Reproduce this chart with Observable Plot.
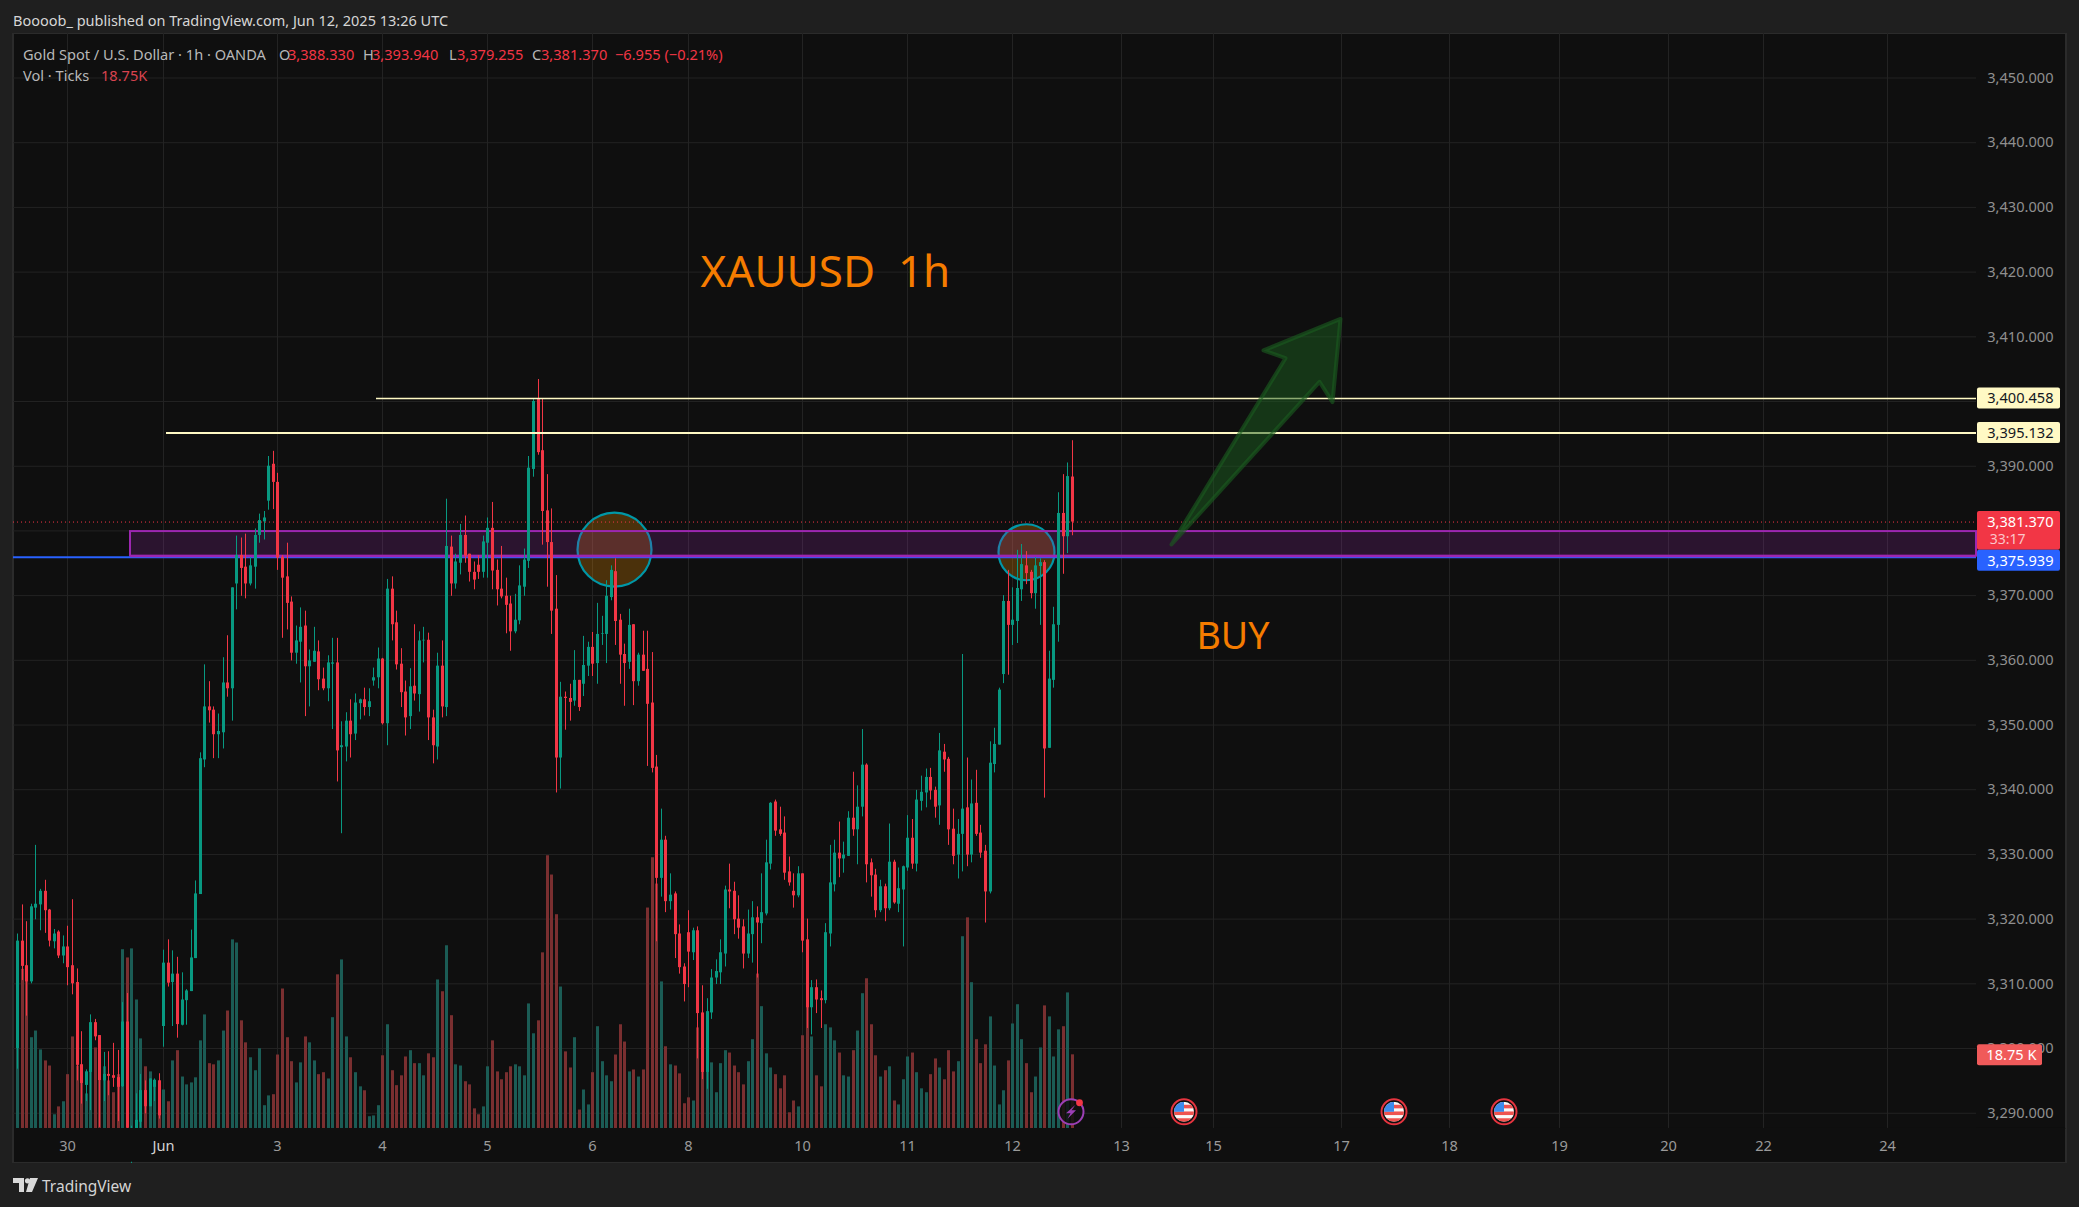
<!DOCTYPE html>
<html><head><meta charset="utf-8">
<script src="https://cdn.jsdelivr.net/npm/d3@7"></script>
<script src="https://cdn.jsdelivr.net/npm/@observablehq/plot@0.6"></script>
<style>
html,body{margin:0;padding:0;background:#1f1f1f;width:2079px;height:1207px;overflow:hidden;font-family:"Noto Sans",sans-serif}
#wrap{position:relative;width:2079px;height:1207px}
#title{position:absolute;left:13px;top:10px;font-size:14.5px;line-height:20px;color:#d6d6d6;white-space:nowrap}
#chart{position:absolute;left:0;top:33px}
.lg{position:absolute;font-size:14.6px;line-height:20px;white-space:nowrap}
#foot{position:absolute;left:42px;top:1174px;font-size:15.5px;line-height:24px;color:#d4d4d4}
#logo{position:absolute;left:13px;top:1178px}
</style></head><body><div id="wrap">
<div id="title">Boooob_ published on TradingView.com, Jun 12, 2025 13:26 UTC</div>
<div id="chart"></div>
<div id="legend"></div>
<svg id="logo" width="25" height="15" viewBox="0 0 25 15"><path d="M0 0h11v14H6V5H0z M17 0h8l-6 14h-6z" fill="#d9d9d9"/><circle cx="14.5" cy="2.8" r="2.6" fill="#d9d9d9"/></svg>
<div id="foot">TradingView</div>
</div>
<script>
const highs=[3317.7,3322.2,3319.6,3322.3,3331.4,3324.6,3326.0,3321.5,3318.4,3318.2,
3317.4,3318.9,3323.0,3312.3,3302.6,3296.7,3305.2,3304.5,3302.0,3299.4,
3299.5,3300.8,3299.7,3307.1,3308.5,3288.0,3293.0,3296.0,3295.0,3295.3,
3295.3,3296.1,3315.2,3316.8,3315.1,3314.1,3311.7,3309.1,3318.3,3325.9,
3345.7,3359.3,3356.7,3352.8,3351.7,3360.4,3363.8,3371.2,3379.2,3378.9,
3379.5,3375.9,3380.3,3382.6,3383.0,3391.5,3392.3,3388.9,3376.2,3378.1,
3369.8,3365.3,3368.1,3367.6,3361.6,3365.1,3363.0,3358.8,3360.7,3363.4,
3363.4,3350.5,3351.9,3353.9,3354.8,3354.0,3355.7,3355.6,3358.8,3361.9,
3360.3,3372.5,3372.9,3367.6,3361.8,3356.8,3358.7,3365.5,3364.4,3365.1,
3364.2,3352.3,3361.1,3363.0,3384.9,3379.2,3376.4,3381.0,3382.3,3376.4,
3375.2,3376.2,3379.2,3382.0,3384.4,3375.5,3377.6,3372.7,3369.9,3370.2,
3374.6,3377.2,3391.5,3400.3,3403.4,3400.4,3388.7,3383.4,3373.1,3356.6,
3355.1,3356.3,3361.5,3356.9,3363.7,3362.8,3364.3,3368.8,3366.8,3372.3,
3374.6,3375.7,3367.1,3362.5,3367.9,3365.5,3361.1,3364.5,3364.5,3361.2,
3345.3,3337.0,3332.8,3327.0,3324.2,3319.1,3313.1,3321.3,3318.6,3318.8,
3309.7,3307.7,3312.2,3313.7,3316.8,3325.1,3328.5,3325.7,3323.6,3319.9,
3321.4,3322.7,3321.9,3327.0,3332.2,3338.0,3338.4,3337.3,3335.8,3329.6,
3327.0,3328.1,3327.0,3320.0,3310.5,3310.6,3308.9,3319.3,3331.4,3332.2,
3335.0,3331.9,3336.6,3342.7,3340.6,3349.3,3344.0,3329.3,3327.7,3326.0,
3325.4,3334.7,3329.1,3327.9,3328.2,3336.0,3335.4,3339.9,3342.1,3343.2,
3343.3,3340.4,3348.7,3347.0,3345.0,3337.0,3335.4,3360.9,3344.9,3341.5,
3343.0,3334.5,3331.4,3347.4,3349.5,3355.7,3370.0,3373.9,3371.2,3377.0,
3377.9,3376.8,3373.9,3375.9,3375.7,3375.4,3361.4,3368.2,3385.9,3388.7,
3390.5,3393.94];
const lows=[3296.8,3310.5,3305.0,3310.0,3319.9,3318.2,3317.8,3315.7,3315.4,3313.9,
3313.1,3309.7,3308.3,3295.0,3291.4,3291.8,3290.4,3301.2,3287.8,3291.8,
3292.7,3294.0,3288.7,3294.0,3287.6,3282.0,3284.0,3287.7,3289.9,3291.0,
3291.8,3289.1,3300.2,3309.5,3303.4,3301.6,3303.5,3303.6,3308.8,3313.9,
3323.8,3343.4,3350.3,3344.8,3344.8,3346.3,3354.3,3350.6,3367.8,3369.9,
3369.5,3371.5,3371.0,3378.1,3378.6,3383.2,3383.3,3373.9,3363.4,3364.7,
3359.9,3359.4,3356.5,3351.3,3352.8,3359.7,3355.3,3355.3,3353.6,3349.3,
3341.2,3333.2,3344.3,3344.9,3347.6,3350.8,3351.4,3351.3,3356.0,3355.6,
3350.0,3346.8,3363.0,3358.5,3352.7,3348.3,3349.3,3353.7,3352.0,3359.6,
3347.6,3344.0,3344.6,3351.1,3351.3,3369.9,3371.0,3373.2,3375.0,3372.1,
3370.9,3372.5,3372.7,3372.7,3370.9,3368.4,3369.5,3364.1,3361.4,3364.1,
3365.5,3369.9,3374.2,3388.3,3391.7,3377.8,3371.3,3364.0,3339.5,3340.1,
3349.2,3350.6,3352.9,3352.1,3354.4,3357.5,3357.5,3356.3,3362.3,3359.5,
3369.2,3362.3,3356.3,3352.9,3358.6,3353.0,3356.0,3358.3,3343.6,3342.6,
3316.5,3323.4,3321.0,3321.4,3313.9,3311.5,3307.2,3309.4,3313.6,3298.4,
3295.2,3293.7,3304.5,3309.9,3309.9,3312.6,3321.6,3317.6,3316.9,3312.3,
3313.9,3313.2,3310.9,3316.2,3320.5,3327.6,3332.8,3332.8,3326.0,3325.1,
3321.7,3323.3,3314.8,3303.1,3302.1,3305.4,3303.1,3306.9,3315.7,3324.2,
3326.4,3327.1,3329.7,3332.8,3328.4,3335.8,3325.6,3323.4,3320.2,3321.0,
3319.6,3321.3,3322.3,3321.0,3315.7,3327.4,3327.7,3327.3,3336.7,3337.2,
3338.4,3335.6,3334.5,3342.7,3331.4,3328.4,3326.2,3327.3,3328.1,3328.7,
3332.8,3329.4,3319.4,3323.9,3342.6,3346.9,3356.4,3357.7,3362.3,3362.6,
3369.1,3371.7,3369.5,3367.9,3365.4,3338.7,3346.4,3355.7,3362.8,3373.3,
3376.5,3379.255];
const opens=[3300.0,3316.6,3312.8,3310.3,3321.7,3322.2,3324.3,3321.4,3316.5,3318.0,
3314.3,3315.7,3312.8,3310.2,3297.5,3294.3,3296.3,3304.0,3302.0,3295.0,
3296.0,3295.8,3295.5,3294.1,3304.1,3283.0,3285.0,3288.6,3293.5,3291.0,
3294.0,3295.0,3303.4,3313.2,3310.2,3311.5,3303.6,3307.4,3308.8,3313.9,
3323.8,3344.6,3352.8,3352.3,3348.5,3348.8,3356.5,3355.6,3371.8,3376.2,
3374.4,3371.8,3374.4,3379.3,3381.4,3384.6,3390.3,3387.5,3375.9,3372.9,
3369.0,3361.1,3362.8,3365.3,3359.0,3359.7,3361.3,3357.1,3355.6,3359.4,
3359.6,3346.5,3346.6,3350.6,3348.6,3353.3,3353.9,3352.7,3356.8,3357.3,
3360.2,3350.2,3371.0,3365.8,3359.4,3355.1,3351.3,3356.0,3354.7,3363.0,
3363.1,3351.1,3346.6,3359.1,3352.7,3377.5,3371.8,3375.0,3379.3,3376.4,
3373.6,3374.7,3373.6,3378.1,3380.4,3373.9,3371.0,3369.9,3368.7,3364.4,
3366.1,3371.3,3375.3,3389.5,3400.3,3392.4,3383.1,3378.2,3367.9,3344.9,
3354.3,3354.1,3353.7,3356.9,3356.3,3359.1,3362.0,3359.5,3364.0,3364.0,
3369.7,3373.7,3366.2,3360.9,3359.7,3365.5,3356.7,3360.8,3358.6,3353.4,
3343.5,3326.3,3332.2,3322.7,3323.9,3317.7,3312.6,3317.9,3314.8,3318.2,
3305.5,3296.3,3305.5,3310.9,3311.7,3314.6,3324.5,3324.3,3320.0,3318.8,
3314.6,3317.6,3320.2,3319.3,3320.8,3328.5,3338.1,3333.8,3333.3,3327.3,
3324.3,3323.6,3327.0,3316.8,3306.3,3309.4,3307.7,3307.4,3317.7,3325.3,
3330.2,3329.3,3329.7,3335.6,3333.8,3337.3,3343.8,3328.7,3326.8,3321.3,
3325.0,3321.6,3328.8,3322.3,3324.5,3327.9,3332.5,3328.5,3338.2,3339.5,
3341.9,3339.9,3337.5,3345.8,3344.7,3333.9,3329.9,3333.1,3337.2,3329.9,
3337.9,3333.3,3330.5,3324.2,3343.9,3346.9,3357.8,3369.1,3365.4,3366.0,
3370.9,3374.6,3373.6,3370.3,3374.5,3375.1,3346.4,3356.9,3365.4,3382.7,
3379.1,3388.33];
const closes=[3316.6,3312.7,3310.3,3321.9,3322.3,3324.3,3321.3,3316.6,3317.7,3314.3,
3315.7,3312.5,3310.0,3297.4,3294.6,3296.4,3304.0,3301.8,3295.0,3296.0,
3295.7,3295.4,3294.0,3304.1,3287.7,3287.4,3288.9,3293.5,3291.0,3295.3,
3295.1,3289.6,3313.2,3310.1,3311.5,3303.7,3307.5,3308.9,3314.0,3323.9,
3344.8,3352.8,3352.2,3348.5,3349.0,3356.5,3355.6,3371.2,3376.2,3374.2,
3371.8,3374.6,3379.3,3381.6,3382.0,3390.0,3387.5,3375.8,3372.7,3368.8,
3361.1,3363.0,3365.1,3359.0,3359.9,3361.4,3357.0,3355.6,3359.6,3359.6,
3346.0,3346.8,3350.6,3348.5,3353.4,3353.9,3352.7,3353.6,3357.3,3360.2,
3350.2,3371.0,3365.5,3359.3,3355.0,3351.1,3355.9,3354.8,3363.0,3363.1,
3351.1,3346.8,3359.1,3352.8,3377.6,3371.8,3375.2,3379.3,3376.1,3373.6,
3372.4,3373.6,3378.3,3380.4,3373.8,3370.9,3369.8,3368.5,3364.4,3366.2,
3371.5,3375.5,3389.7,3400.0,3392.1,3383.0,3378.2,3367.6,3344.9,3354.3,
3354.1,3353.5,3356.9,3352.7,3359.2,3362.0,3359.4,3364.0,3364.1,3369.9,
3373.9,3366.0,3360.8,3359.5,3365.4,3356.7,3360.8,3358.3,3353.2,3343.3,
3326.3,3332.2,3322.7,3323.7,3317.6,3312.5,3309.9,3314.9,3318.2,3305.4,
3296.3,3305.7,3310.9,3311.9,3314.8,3324.5,3324.2,3319.9,3318.6,3314.6,
3317.7,3320.2,3319.4,3321.0,3328.7,3337.9,3333.6,3333.1,3327.1,3325.6,
3323.6,3327.0,3316.6,3306.3,3309.4,3307.5,3307.4,3317.9,3325.6,3330.2,
3329.3,3329.9,3335.6,3333.8,3337.3,3343.8,3328.4,3326.7,3321.3,3325.0,
3321.6,3328.8,3322.5,3324.7,3328.1,3332.5,3328.5,3338.4,3339.6,3341.9,
3339.8,3337.3,3346.0,3344.6,3333.8,3329.7,3333.1,3337.0,3329.9,3337.8,
3333.1,3330.2,3324.2,3344.1,3347.0,3355.4,3369.1,3365.4,3366.2,3371.1,
3374.8,3373.4,3370.3,3374.6,3375.1,3346.3,3357.1,3365.5,3382.7,3379.1,
3388.4,3381.37];
const volumesK=[38.6,40.5,39.7,23.1,24.8,20.0,17.2,15.9,3.5,5.5,
6.8,13.7,23.3,15.9,15.9,8.8,14.7,20.5,12.1,15.7,
12.1,9.1,13.7,45.5,43.4,45.7,32.7,22.8,15.7,14.4,
12.1,12.1,9.8,6.8,17.2,19.8,13.1,11.1,11.6,12.9,
22.3,28.9,16.5,16.2,17.2,24.8,29.9,48.0,47.2,27.4,
21.8,18.0,14.7,20.3,5.8,8.3,8.6,18.7,35.5,23.1,
17.0,11.6,16.7,23.3,21.8,17.2,13.7,14.2,12.6,28.2,
39.1,42.9,23.3,18.0,14.2,10.6,9.6,3.0,3.2,5.8,
18.5,26.4,14.7,10.9,13.4,18.2,19.8,16.5,16.5,13.4,
19.0,18.0,37.8,34.8,46.5,28.7,16.2,15.9,11.9,11.1,
5.0,3.5,5.5,15.7,22.3,14.4,12.4,14.2,15.7,16.2,
15.7,13.4,31.7,24.1,27.4,44.7,69.4,64.5,54.4,36.0,
19.5,15.4,23.1,4.7,9.8,6.0,14.2,25.9,17.0,13.4,
11.9,18.7,26.4,22.0,14.4,14.9,13.1,14.9,56.1,68.9,
62.2,37.3,20.8,16.2,15.9,13.9,6.3,7.8,7.0,25.6,
22.3,22.6,16.7,9.1,16.5,19.8,19.2,15.9,14.2,11.1,
17.0,22.6,39.3,31.0,19.0,15.4,13.7,10.1,13.4,4.0,
7.0,5.5,23.6,35.0,23.3,13.4,10.6,26.4,25.6,22.3,
19.2,13.4,13.1,19.8,24.8,34.3,38.1,26.4,18.5,13.1,
14.7,15.7,7.0,6.0,12.4,18.2,19.2,14.2,10.1,9.1,
13.7,17.7,15.4,12.4,19.8,14.4,17.0,48.8,53.6,37.1,
22.6,16.5,21.3,28.4,15.9,6.0,9.6,17.2,26.6,31.5,
22.6,16.5,9.1,13.1,20.5,31.2,28.4,18.2,25.1,25.9,
34.5,18.75];

const priceTicks=[3290,3300,3310,3320,3330,3340,3350,3360,3370,3380,3390,3400,3410,3420,3430,3440,3450];
const hiddenPriceLabels=[3380,3400]; // covered by the price tags in the reference
const timeTickBars=[11,32,57,80,103,126,147,172,195,218,241.9,262,290,313.7,337.7,361.6,382.5,409.6];
const timeTickLabels=["30","Jun","3","4","5","6","8","10","11","12","13","15","17","18","19","20","22","24"];

const bars=highs.map((h,i)=>({i,high:h,low:lows[i],open:opens[i],close:closes[i],vol:volumesK[i],up:closes[i]>=opens[i]}));
const UP="#089981",DOWN="#f23645",VUP="#1b5c55",VDOWN="#7a2f30";
const FONT='"Noto Sans",sans-serif';

// pane bounds expressed in the chart's bar-index and price scales
const paneLeft=-0.92,paneRight=429.1,axisRight=448.8,priceBase=3287.64,yMin=3282.23,yMax=3456.88;
const volToPrice=d3.scaleLinear([0,100],[priceBase,priceBase+60.74]);
const tagFrom=429.3,tagTo=447.5,tagText=446;

const supportLevel=3375.939,zoneTop=3379.9,zoneBottom=3376.1,zoneStart=24.8;
const levels=[{p:3400.458,from:78.7,w:1.5},{p:3395.132,from:32.7,w:2.2}];
const lastPrice=3381.37;
const circles=[{i:130.8,p:3377.1,r:37},{i:220.9,p:3376.7,r:28}];
const arrow=[{i:252.7,p:3377.9},{i:285.2,p:3403.05},{i:288.0,p:3399.9},{i:289.8,p:3412.76},{i:272.8,p:3407.9},{i:277.7,p:3406.7}];
const flagBars=[255.7,301.7,325.7],boltBar=230.9,iconPrice=3290.15;

const tags=[
 {y1:3398.84,y2:3402.08,c:"#fff9c4",tc:"#131722",s:"3,400.458",ty:3400.458},
 {y1:3393.51,y2:3396.75,c:"#fff9c4",tc:"#131722",s:"3,395.132",ty:3395.132},
 {y1:3377.0,y2:3383.0,c:"#f23645",tc:"#ffffff",s:"3,381.370",ty:3381.37},
 {y1:3373.75,y2:3377.0,c:"#2962ff",tc:"#ffffff",s:"3,375.939",ty:3375.35}
];

function icons(index,{x,y}){
  const g=d3.create("svg:g");
  const defs=g.append("defs");
  const cy=y(iconPrice);
  flagBars.forEach((b,k)=>{
    const cx=x(b);
    defs.append("clipPath").attr("id","fc"+k).append("circle").attr("cx",cx).attr("cy",cy).attr("r",10);
    g.append("circle").attr("cx",cx).attr("cy",cy).attr("r",12.5).attr("fill","#0f0f0f").attr("stroke","#e5343f").attr("stroke-width",2);
    const f=g.append("g").attr("clip-path",`url(#fc${k})`);
    f.append("rect").attr("x",cx-10).attr("y",cy-10).attr("width",20).attr("height",20).attr("fill","#f9f9f9");
    [[-7,3.6],[-0.3,3.6],[6.5,3.6]].forEach(([dy,h])=>f.append("rect").attr("x",cx-10).attr("y",cy+dy).attr("width",20).attr("height",h).attr("fill","#ef5350"));
    f.append("rect").attr("x",cx-10).attr("y",cy-10).attr("width",10).attr("height",10).attr("fill","#3d8bec");
  });
  const bx=x(boltBar);
  g.append("circle").attr("cx",bx).attr("cy",cy).attr("r",12.5).attr("fill","#0f0f0f").attr("fill-opacity",.85).attr("stroke","#9c3fb5").attr("stroke-width",2);
  g.append("path").attr("d",`M${bx+4.5} ${cy-7}L${bx-5} ${cy+1.5}L${bx-0.5} ${cy+1.5}L${bx-3.5} ${cy+7}L${bx+5} ${cy-1.5}L${bx+0.5} ${cy-1.5}Z`).attr("fill","#9c3fb5");
  g.append("circle").attr("cx",bx+8.5).attr("cy",cy-9).attr("r",3.4).attr("fill","#f23645");
  return g.node();
}

const ups=bars.filter(d=>d.up),downs=bars.filter(d=>!d.up);
const plot=Plot.plot({
  width:2079,height:1130,margin:0,
  style:{background:"transparent",fontFamily:FONT},
  x:{domain:[-3.768,451.66],range:[0,2079],round:true,axis:null},
  y:{domain:[yMin,yMax],range:[1130,0],axis:null},
  r:{type:"identity"},
  marks:[
    Plot.rect([0],{x1:paneLeft,x2:axisRight,y1:yMin+0.05,y2:yMax,fill:"#0f0f0f",stroke:"#2b2b2b",strokeWidth:2}),
    // grid
    Plot.ruleY(priceTicks,{x1:paneLeft,x2:paneRight,stroke:"#232323",strokeWidth:1}),
    Plot.ruleX(timeTickBars,{y1:priceBase,y2:yMax,stroke:"#232323",strokeWidth:1}),
    Plot.ruleY([priceBase],{x1:paneRight,x2:axisRight,stroke:"#232323"}),
    // volume
    Plot.ruleX(ups,{x:"i",y1:priceBase,y2:d=>volToPrice(d.vol),stroke:VUP,strokeWidth:3}),
    Plot.ruleX(downs,{x:"i",y1:priceBase,y2:d=>volToPrice(d.vol),stroke:VDOWN,strokeWidth:3}),
    // drawings under the candles
    Plot.dot(circles,{x:"i",y:"p",r:"r",fill:"#ff9800",fillOpacity:0.25,stroke:"#0097a7",strokeWidth:2.2}),
    Plot.rect([0],{x1:zoneStart,x2:paneRight,y1:zoneBottom,y2:zoneTop,fill:"#9c27b0",fillOpacity:0.2,stroke:"#9c27b0",strokeWidth:2}),
    Plot.ruleY([lastPrice],{x1:paneLeft,x2:paneRight,stroke:"#f23645",strokeWidth:1,strokeDasharray:"1 3"}),
    Plot.ruleY([supportLevel],{x1:paneLeft,x2:paneRight,stroke:"#2962ff",strokeWidth:2}),
    Plot.ruleY([{p:zoneBottom}],{y:"p",x1:zoneStart,x2:paneRight,stroke:"#9c27b0",strokeWidth:2}),
    // wicks and bodies
    Plot.ruleX(ups,{x:"i",y1:"low",y2:"high",stroke:UP,strokeWidth:1}),
    Plot.ruleX(downs,{x:"i",y1:"low",y2:"high",stroke:DOWN,strokeWidth:1}),
    Plot.ruleX(ups,{x:"i",y1:"open",y2:"close",stroke:UP,strokeWidth:3}),
    Plot.ruleX(downs,{x:"i",y1:"open",y2:"close",stroke:DOWN,strokeWidth:3}),
    // resistance lines and arrow
    ...levels.map(l=>Plot.ruleY([l.p],{x1:l.from,x2:paneRight,stroke:"#fff9c4",strokeWidth:l.w})),
    Plot.line(arrow,{x:"i",y:"p",curve:"linear-closed",fill:"#1b5e20",fillOpacity:0.5,stroke:"#1b5e20",strokeOpacity:0.6,strokeWidth:4,strokeLinejoin:"round"}),
    // hide what falls under the time axis
    Plot.rect([0],{x1:paneLeft+0.2,x2:axisRight-0.2,y1:yMin+0.2,y2:priceBase,fill:"#0f0f0f"}),
    // annotations
    Plot.text(["XAUUSD\u00a0\u00a01h"],{x:149.6,y:3419.9,textAnchor:"start",fill:"#f57c00",fontSize:44,fontFamily:FONT}),
    Plot.text(["BUY"],{x:258.2,y:3363.6,textAnchor:"start",fill:"#f57c00",fontSize:37.5,fontFamily:FONT}),
    // axes
    Plot.text(priceTicks.filter(d=>!hiddenPriceLabels.includes(d)),{x:tagText,y:d=>d,text:d=>d3.format(",.3f")(d),textAnchor:"end",fill:"#8f8f8f",fontSize:14.6,fontFamily:FONT}),
    Plot.text(timeTickBars.map((b,k)=>({b,l:timeTickLabels[k]})),{x:"b",y:3284.85,text:"l",fill:d=>d.l==="Jun"?"#d4d4d4":"#9a9a9a",fontWeight:d=>d.l==="Jun"?700:400,fontSize:14.6,fontFamily:FONT}),
    // price tags
    Plot.rect(tags,{x1:tagFrom,x2:tagTo,y1:"y1",y2:"y2",fill:"c",rx:2}),
    Plot.text(tags,{x:tagText,y:"ty",text:"s",fill:"tc",textAnchor:"end",fontSize:14.6,fontFamily:FONT}),
    Plot.text(["33:17"],{x:439.8,y:3378.6,fill:"#ffffff",fillOpacity:0.72,fontSize:14,fontFamily:FONT,textAnchor:"end"}),
    Plot.rect([0],{x1:tagFrom,x2:443.5,y1:3297.35,y2:3300.6,fill:"#f05a5a",rx:2}),
    Plot.text(["18.75 K"],{x:442.2,y:3299,fill:"#ffffff",textAnchor:"end",fontSize:14.6,fontFamily:FONT}),
    icons
  ]
});
document.getElementById("chart").appendChild(plot);

const legendItems=[
 ["Gold Spot / U.S. Dollar · 1h · OANDA",23,54,"#b8b8b8"],
 ["O",279,54,"#b8b8b8"],["3,388.330",288,54,"#f23645"],
 ["H",363,54,"#b8b8b8"],["3,393.940",372,54,"#f23645"],
 ["L",449,54,"#b8b8b8"],["3,379.255",457,54,"#f23645"],
 ["C",532,54,"#b8b8b8"],["3,381.370",541,54,"#f23645"],
 ["−6.955 (−0.21%)",615,54,"#f23645"],
 ["Vol · Ticks",23,75,"#b8b8b8"],["18.75K",101,75,"#d9434f"]
];
const lg=document.getElementById("legend");
legendItems.forEach(([t,l,y,c])=>{const s=document.createElement("span");s.className="lg";s.textContent=t;s.style.left=l+"px";s.style.top=(y-10)+"px";s.style.color=c;lg.appendChild(s);});
</script></body></html>
